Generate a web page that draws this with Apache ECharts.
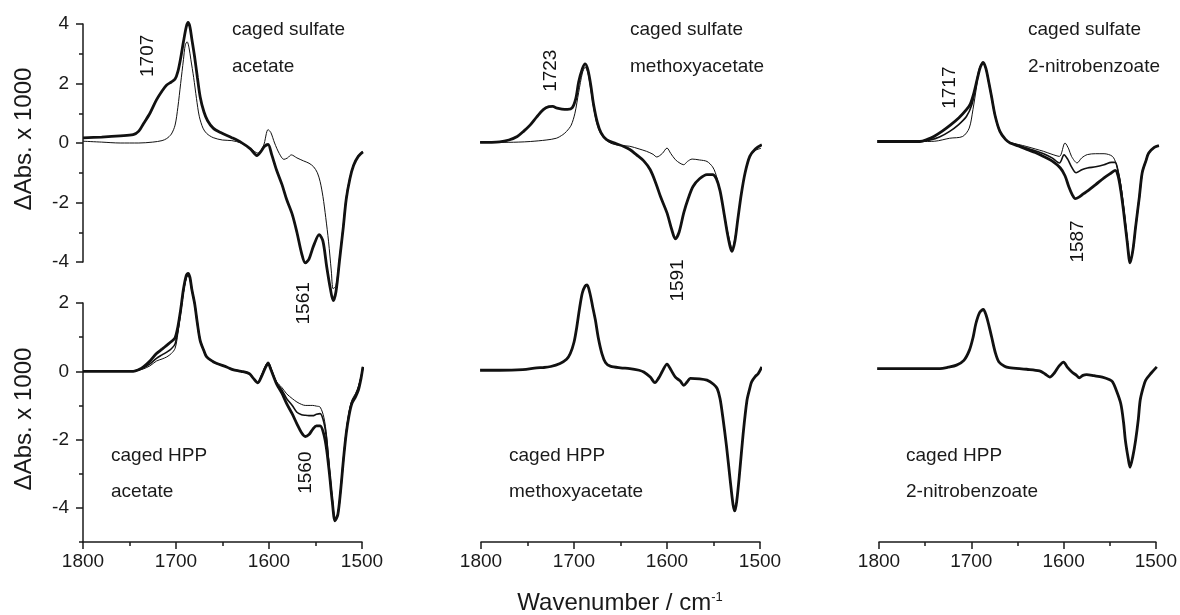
<!DOCTYPE html>
<html>
<head>
<meta charset="utf-8">
<script src="https://cdn.jsdelivr.net/npm/echarts@6/dist/echarts.min.js"></script>
<style>
  html, body { margin: 0; padding: 0; background: #fff; }
  #main { width: 1180px; height: 615px; }
</style>
</head>
<body>
<div id="main"></div>
<script>
// wavenumber (cm-1), dAbs x 1000
// top row: caged sulfate
var sulfAcetThick = [[1800,0.17],[1780,0.2],[1760,0.24],[1746,0.28],[1740,0.4],[1735,0.65],[1728,1.0],[1721,1.45],[1715,1.75],[1710,1.95],[1705,2.05],[1701,2.15],[1698,2.4],[1695,2.85],[1692,3.4],[1689,3.9],[1687,4.05],[1685,3.9],[1683,3.5],[1680,2.9],[1677,2.2],[1674,1.55],[1670,1.05],[1666,0.75],[1660,0.5],[1652,0.35],[1640,0.18],[1630,0.02],[1620,-0.2],[1613,-0.42],[1609,-0.3],[1605,-0.12],[1601,-0.05],[1597,-0.4],[1592,-0.9],[1586,-1.4],[1581,-1.9],[1575,-2.4],[1570,-3.0],[1565,-3.7],[1561,-4.03],[1557,-3.9],[1552,-3.45],[1546,-3.08],[1542,-3.3],[1538,-4.15],[1534,-4.9],[1531,-5.3],[1528,-5.0],[1524,-3.9],[1520,-2.8],[1517,-1.9],[1513,-1.2],[1509,-0.75],[1504,-0.45],[1499,-0.3]];
var sulfAcetThin = [[1800,0.06],[1780,0.03],[1760,0.0],[1740,0.0],[1725,0.03],[1715,0.08],[1710,0.15],[1705,0.3],[1701,0.6],[1698,1.2],[1695,2.0],[1692,2.8],[1690,3.3],[1688,3.4],[1686,3.2],[1684,2.8],[1681,2.2],[1678,1.5],[1675,0.9],[1671,0.5],[1667,0.32],[1660,0.18],[1650,0.1],[1640,0.08],[1630,0.0],[1620,-0.18],[1612,-0.34],[1606,-0.1],[1601,0.45],[1598,0.35],[1594,0.0],[1589,-0.35],[1584,-0.55],[1580,-0.5],[1576,-0.4],[1570,-0.5],[1563,-0.6],[1557,-0.68],[1552,-0.8],[1548,-1.0],[1545,-1.3],[1542,-1.8],[1539,-2.5],[1536,-3.3],[1533,-4.3],[1531,-4.9],[1528,-4.8],[1524,-3.8],[1520,-2.7],[1517,-1.8],[1513,-1.15],[1509,-0.72],[1504,-0.42],[1499,-0.28]];

var sulfMethThick = [[1801,0.02],[1780,0.04],[1770,0.1],[1761,0.22],[1754,0.4],[1747,0.61],[1740,0.88],[1733,1.12],[1727,1.22],[1723,1.23],[1718,1.17],[1713,1.14],[1707,1.13],[1702,1.18],[1698,1.5],[1695,2.05],[1691,2.5],[1688,2.66],[1685,2.45],[1682,1.95],[1679,1.3],[1675,0.7],[1671,0.35],[1665,0.11],[1655,-0.02],[1647,-0.11],[1640,-0.22],[1633,-0.39],[1625,-0.6],[1618,-0.9],[1612,-1.35],[1607,-1.8],[1600,-2.35],[1595,-2.9],[1591,-3.22],[1587,-3.0],[1582,-2.35],[1577,-1.85],[1572,-1.46],[1565,-1.2],[1557,-1.06],[1551,-1.06],[1547,-1.2],[1543,-1.6],[1539,-2.3],[1535,-3.05],[1532,-3.5],[1530,-3.64],[1527,-3.3],[1524,-2.6],[1520,-1.7],[1516,-1.0],[1511,-0.45],[1505,-0.2],[1498,-0.06]];
var sulfMethThin = [[1801,0.02],[1780,0.02],[1760,0.03],[1747,0.05],[1730,0.1],[1719,0.16],[1712,0.28],[1708,0.39],[1703,0.6],[1699,1.0],[1695,1.7],[1691,2.35],[1688,2.55],[1685,2.35],[1682,1.8],[1679,1.2],[1675,0.6],[1670,0.25],[1661,0.0],[1650,-0.08],[1640,-0.11],[1630,-0.2],[1622,-0.28],[1615,-0.38],[1611,-0.47],[1605,-0.35],[1600,-0.17],[1596,-0.35],[1591,-0.56],[1586,-0.68],[1582,-0.73],[1578,-0.62],[1573,-0.54],[1565,-0.57],[1557,-0.62],[1551,-0.8],[1548,-1.0],[1544,-1.45],[1540,-2.1],[1536,-2.8],[1532,-3.36],[1530,-3.55],[1527,-3.2],[1524,-2.55],[1520,-1.7],[1516,-1.0],[1511,-0.45],[1505,-0.25],[1498,-0.17]];

var sulfNitroThick = [[1802,0.05],[1780,0.05],[1756,0.05],[1748,0.12],[1741,0.22],[1732,0.4],[1723,0.61],[1714,0.85],[1706,1.12],[1702,1.3],[1698,1.68],[1694,2.2],[1691,2.55],[1688,2.71],[1685,2.5],[1682,2.05],[1679,1.56],[1675,0.9],[1670,0.39],[1664,0.12],[1659,0.0],[1650,-0.1],[1641,-0.22],[1632,-0.32],[1623,-0.45],[1614,-0.6],[1605,-0.84],[1600,-1.1],[1596,-1.46],[1592,-1.75],[1589,-1.87],[1585,-1.82],[1580,-1.7],[1576,-1.62],[1567,-1.4],[1558,-1.17],[1550,-1.0],[1546,-0.92],[1543,-1.1],[1540,-1.6],[1537,-2.3],[1533,-3.36],[1530,-4.03],[1527,-3.6],[1524,-2.8],[1520,-1.8],[1517,-1.0],[1513,-0.6],[1510,-0.34],[1504,-0.15],[1499,-0.09]];
var sulfNitroMid = [[1802,0.05],[1756,0.05],[1745,0.1],[1735,0.2],[1724,0.39],[1715,0.6],[1706,0.89],[1700,1.3],[1696,1.9],[1692,2.5],[1688,2.7],[1685,2.5],[1682,2.05],[1679,1.56],[1675,0.9],[1670,0.39],[1664,0.12],[1659,0.0],[1650,-0.08],[1641,-0.17],[1632,-0.26],[1623,-0.36],[1614,-0.5],[1606,-0.67],[1601,-0.4],[1597,-0.55],[1593,-0.8],[1588,-1.0],[1582,-0.9],[1576,-0.84],[1567,-0.8],[1558,-0.73],[1550,-0.65],[1546,-0.65],[1543,-0.95],[1540,-1.46],[1537,-2.2],[1533,-3.3],[1530,-4.0],[1527,-3.6],[1524,-2.8],[1520,-1.8],[1517,-1.0],[1513,-0.6],[1510,-0.34],[1504,-0.15],[1499,-0.09]];
var sulfNitroThin = [[1802,0.05],[1756,0.05],[1740,0.06],[1724,0.16],[1710,0.22],[1703,0.5],[1699,1.12],[1695,1.9],[1692,2.45],[1688,2.65],[1685,2.5],[1682,2.05],[1679,1.56],[1675,0.9],[1670,0.39],[1664,0.12],[1659,0.02],[1650,-0.05],[1641,-0.12],[1632,-0.2],[1623,-0.28],[1614,-0.38],[1606,-0.45],[1600,0.0],[1596,-0.2],[1593,-0.45],[1587,-0.67],[1582,-0.5],[1576,-0.39],[1567,-0.36],[1558,-0.36],[1549,-0.45],[1545,-0.7],[1541,-1.2],[1537,-2.1],[1533,-3.2],[1530,-3.95],[1527,-3.6],[1524,-2.8],[1520,-1.8],[1517,-1.0],[1513,-0.6],[1510,-0.34],[1504,-0.15],[1499,-0.09]];

// bottom row: caged HPP
var hppAcetThick = [[1800,0],[1770,0],[1746,0.0],[1740,0.05],[1735,0.13],[1728,0.3],[1721,0.52],[1715,0.65],[1710,0.76],[1705,0.87],[1701,0.98],[1698,1.3],[1695,1.8],[1692,2.4],[1689,2.8],[1687,2.87],[1685,2.75],[1683,2.4],[1680,1.99],[1677,1.4],[1674,0.9],[1670,0.6],[1667,0.42],[1660,0.28],[1656,0.23],[1645,0.12],[1639,0.05],[1630,0.0],[1621,-0.07],[1617,-0.2],[1612,-0.34],[1608,-0.15],[1604,0.1],[1601,0.23],[1598,0.05],[1592,-0.36],[1586,-0.65],[1581,-0.95],[1575,-1.25],[1570,-1.54],[1565,-1.8],[1561,-1.91],[1557,-1.85],[1553,-1.7],[1549,-1.6],[1545,-1.6],[1541,-1.85],[1538,-2.3],[1535,-3.0],[1532,-3.8],[1529,-4.38],[1526,-4.2],[1523,-3.5],[1520,-2.6],[1517,-1.83],[1514,-1.3],[1511,-0.95],[1507,-0.75],[1504,-0.56],[1501,-0.2],[1499,0.13]];
var hppAcetMid = [[1800,0],[1770,0],[1746,0.0],[1740,0.04],[1735,0.1],[1728,0.22],[1721,0.38],[1715,0.48],[1710,0.56],[1705,0.66],[1701,0.8],[1698,1.2],[1695,1.75],[1692,2.35],[1689,2.75],[1687,2.82],[1685,2.72],[1683,2.4],[1680,1.99],[1677,1.4],[1674,0.9],[1670,0.6],[1667,0.42],[1660,0.28],[1656,0.23],[1645,0.12],[1639,0.05],[1630,0.0],[1621,-0.07],[1617,-0.2],[1612,-0.33],[1608,-0.13],[1604,0.12],[1601,0.25],[1598,0.08],[1592,-0.33],[1586,-0.55],[1581,-0.8],[1575,-1.0],[1570,-1.2],[1565,-1.27],[1561,-1.29],[1557,-1.3],[1553,-1.3],[1549,-1.26],[1545,-1.24],[1541,-1.5],[1538,-2.0],[1535,-2.9],[1532,-3.75],[1529,-4.35],[1526,-4.2],[1523,-3.5],[1520,-2.6],[1517,-1.8],[1514,-1.25],[1511,-0.9],[1507,-0.7],[1504,-0.5],[1501,-0.18],[1499,0.13]];
var hppAcetThin = [[1800,0],[1770,0],[1746,0.0],[1740,0.03],[1735,0.07],[1728,0.16],[1721,0.3],[1715,0.36],[1710,0.42],[1705,0.52],[1701,0.67],[1698,1.1],[1695,1.7],[1692,2.3],[1689,2.72],[1687,2.8],[1685,2.7],[1683,2.4],[1680,1.99],[1677,1.4],[1674,0.9],[1670,0.6],[1667,0.42],[1660,0.28],[1656,0.23],[1645,0.12],[1639,0.05],[1630,0.0],[1621,-0.07],[1617,-0.2],[1612,-0.32],[1608,-0.1],[1604,0.15],[1601,0.28],[1598,0.1],[1592,-0.3],[1586,-0.48],[1581,-0.66],[1575,-0.8],[1570,-0.9],[1565,-0.97],[1561,-1.0],[1557,-1.0],[1553,-1.0],[1549,-1.02],[1545,-1.05],[1541,-1.35],[1538,-1.9],[1535,-2.85],[1532,-3.7],[1529,-4.3],[1526,-4.15],[1523,-3.45],[1520,-2.55],[1517,-1.75],[1514,-1.2],[1511,-0.85],[1507,-0.65],[1504,-0.45],[1501,-0.15],[1499,0.13]];

var hppMeth = [[1801,0.03],[1780,0.03],[1755,0.05],[1740,0.1],[1733,0.11],[1725,0.14],[1715,0.23],[1708,0.35],[1704,0.52],[1700,0.85],[1697,1.3],[1694,1.85],[1691,2.3],[1688,2.5],[1686,2.53],[1683,2.3],[1680,1.9],[1677,1.5],[1674,1.0],[1670,0.52],[1666,0.25],[1661,0.15],[1650,0.1],[1640,0.08],[1630,0.03],[1625,-0.02],[1618,-0.17],[1613,-0.33],[1609,-0.2],[1605,0.0],[1600,0.21],[1596,0.05],[1591,-0.17],[1586,-0.28],[1582,-0.41],[1578,-0.3],[1575,-0.21],[1565,-0.22],[1557,-0.26],[1550,-0.38],[1546,-0.51],[1543,-0.8],[1540,-1.34],[1536,-2.2],[1532,-3.2],[1529,-3.9],[1527,-4.09],[1525,-3.8],[1522,-3.0],[1518,-1.8],[1514,-0.85],[1511,-0.5],[1509,-0.31],[1505,-0.15],[1502,-0.07],[1498,0.13]];
var hppNitro = [[1802,0.08],[1760,0.08],[1734,0.08],[1725,0.12],[1716,0.18],[1708,0.32],[1702,0.62],[1698,1.0],[1695,1.4],[1691,1.72],[1687,1.81],[1684,1.65],[1681,1.35],[1678,1.01],[1674,0.55],[1670,0.27],[1664,0.15],[1659,0.11],[1640,0.06],[1626,0.01],[1620,-0.08],[1615,-0.17],[1610,-0.05],[1605,0.15],[1600,0.27],[1596,0.12],[1591,-0.02],[1586,-0.12],[1583,-0.19],[1579,-0.12],[1575,-0.1],[1567,-0.13],[1558,-0.17],[1550,-0.25],[1547,-0.31],[1543,-0.55],[1538,-0.95],[1535,-1.5],[1533,-2.03],[1530,-2.55],[1528,-2.81],[1525,-2.5],[1522,-2.03],[1519,-1.4],[1517,-0.85],[1514,-0.5],[1511,-0.26],[1505,-0.05],[1499,0.13]];

// rotated peak labels: panel, wavenumber, value, text
var peakLabels = [
    [0, 1730, 2.93, '1707'],
    [0, 1562.5, -5.39, '1561'],
    [1, 1724.7, 2.43, '1723'],
    [1, 1588, -4.62, '1591'],
    [2, 1724, 1.86, '1717'],
    [2, 1586.6, -3.31, '1587'],
    [3, 1560.5, -2.97, '1560']
];

var topTicks = [-4, -2, 0, 2, 4], topMinor = [-3, -1, 1, 3];
var botTicks = [-4, -2, 0, 2], botMinor = [-5, -3, -1, 1];

var FONT = 'Liberation Sans, Arial, sans-serif';
var INK = '#1a1a1a';

var myChart = echarts.init(document.getElementById('main'));

var colLeft = [83, 481, 879];
var grids = [], xAxes = [], yAxes = [];
for (var i = 0; i < 6; i++) {
    var upper = i < 3;
    grids.push({ left: colLeft[i % 3], width: 279, top: upper ? 24 : 303, height: upper ? 238 : 239 });
    xAxes.push({
        gridIndex: i, type: 'value', min: 1500, max: 1800, inverse: true, interval: 100,
        show: !upper,
        axisLine: { onZero: false, lineStyle: { color: INK, width: 1.5 } },
        axisTick: { length: 7, lineStyle: { color: INK, width: 1.5 } },
        minorTick: { show: true, splitNumber: 2, length: 4, lineStyle: { color: INK, width: 1.5 } },
        axisLabel: { fontSize: 19, fontFamily: FONT, color: INK, margin: 10,
                     formatter: function (v) { return String(v); } },
        splitLine: { show: false }
    });
    yAxes.push({
        gridIndex: i, type: 'value', position: 'left', min: upper ? -4 : -5, max: upper ? 4 : 2,
        show: i % 3 === 0,
        axisLine: { show: true, onZero: false, lineStyle: { color: INK, width: 1.5 } },
        axisTick: { customValues: upper ? topTicks : botTicks, length: 7, lineStyle: { color: INK, width: 1.5 } },
        axisLabel: { customValues: upper ? topTicks : botTicks, fontSize: 19, fontFamily: FONT, color: INK, margin: 14 },
        splitLine: { show: false }
    });
}
// minor ticks on the two left axes
[0, 3].forEach(function (g) {
    var upper = g === 0;
    yAxes.push({
        gridIndex: g, type: 'value', position: 'left', min: upper ? -4 : -5, max: upper ? 4 : 2,
        axisLine: { show: false, onZero: false },
        axisTick: { show: true, customValues: upper ? topMinor : botMinor, length: 4, lineStyle: { color: INK, width: 1.5 } },
        axisLabel: { show: false },
        splitLine: { show: false }
    });
});

function spectrum(data, g, w) {
    return {
        type: 'line', xAxisIndex: g, yAxisIndex: g, data: data,
        showSymbol: false, smooth: 0.3, clip: false, silent: true,
        lineStyle: { color: '#111', width: w }
    };
}

var series = [
    spectrum(sulfAcetThin, 0, 1), spectrum(sulfAcetThick, 0, 2.8),
    spectrum(sulfMethThin, 1, 1), spectrum(sulfMethThick, 1, 2.8),
    spectrum(sulfNitroThin, 2, 1), spectrum(sulfNitroMid, 2, 1.6), spectrum(sulfNitroThick, 2, 2.8),
    spectrum(hppAcetThin, 3, 1), spectrum(hppAcetMid, 3, 1.6), spectrum(hppAcetThick, 3, 2.8),
    spectrum(hppMeth, 4, 2.8),
    spectrum(hppNitro, 5, 2.8)
];

peakLabels.forEach(function (p) {
    series.push({
        type: 'scatter', xAxisIndex: p[0], yAxisIndex: p[0], clip: false, silent: true,
        symbolSize: 2, itemStyle: { color: 'rgba(0,0,0,0)' },
        data: [[p[1], p[2], p[3]]],
        label: {
            show: true, position: 'inside', rotate: 90,
            formatter: function (d) { return d.value[2]; },
            fontSize: 19, fontFamily: FONT, color: '#111', opacity: 1, textBorderWidth: 0
        },
        z: 5
    });
});

function txt(x, y, s) {
    return { type: 'text', x: x, y: y, silent: true,
        style: { text: s, fontSize: 19, fontFamily: FONT, fill: INK, textVerticalAlign: 'middle', verticalAlign: 'middle' } };
}

var graphics = [
    txt(232, 30, 'caged sulfate'), txt(232, 67, 'acetate'),
    txt(630, 30, 'caged sulfate'), txt(630, 67, 'methoxyacetate'),
    txt(1028, 30, 'caged sulfate'), txt(1028, 67, '2-nitrobenzoate'),
    txt(111, 456, 'caged HPP'), txt(111, 492, 'acetate'),
    txt(509, 456, 'caged HPP'), txt(509, 492, 'methoxyacetate'),
    txt(906, 456, 'caged HPP'), txt(906, 492, '2-nitrobenzoate'),
    { type: 'text', x: 24, y: 139, rotation: Math.PI / 2, silent: true,
      style: { text: 'ΔAbs. x 1000', fontSize: 24, fontFamily: FONT, fill: INK,
               textAlign: 'center', align: 'center', textVerticalAlign: 'middle', verticalAlign: 'middle' } },
    { type: 'text', x: 24, y: 419, rotation: Math.PI / 2, silent: true,
      style: { text: 'ΔAbs. x 1000', fontSize: 24, fontFamily: FONT, fill: INK,
               textAlign: 'center', align: 'center', textVerticalAlign: 'middle', verticalAlign: 'middle' } },
    { type: 'text', x: 620, y: 603, silent: true,
      style: { text: 'Wavenumber / cm{sup|-1}', fontSize: 24, fontFamily: FONT, fill: INK,
               textAlign: 'center', align: 'center', textVerticalAlign: 'middle', verticalAlign: 'middle',
               rich: { sup: { fontSize: 13, fontFamily: FONT, fill: INK, verticalAlign: 'top' } } } }
];

myChart.setOption({
    animation: false,
    backgroundColor: '#fff',
    grid: grids,
    xAxis: xAxes,
    yAxis: yAxes,
    series: series,
    graphic: graphics
});
</script>
</body>
</html>
